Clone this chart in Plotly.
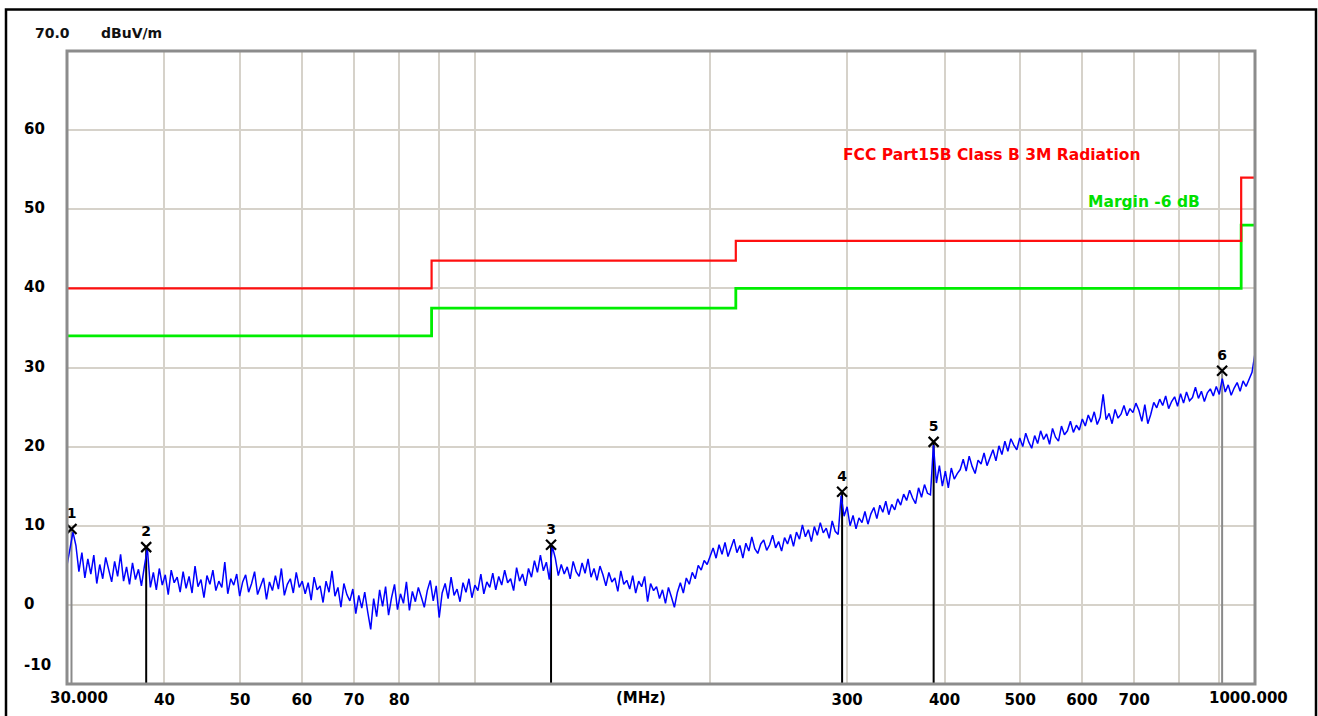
import numpy as np
import plotly.graph_objects as go

# ---------------- data ----------------
freq_start, freq_stop = 30.0, 1000.0

levels = [
    5.0, 6.9, 9.2, 7.5, 4.2, 6.6, 3.4, 5.8, 3.9, 6.3, 2.7, 5.1, 3.3, 6.0, 4.4, 2.9, 5.5, 3.6, 6.4, 3.0,
    4.8, 2.6, 5.3, 3.2, 4.5, 2.4, 4.9, 7.1, 2.2, 4.1, 1.9, 4.6, 2.5, 3.8, 1.3, 4.4, 2.8, 3.5, 1.6, 4.2,
    2.1, 3.6, 1.5, 4.9, 2.3, 3.2, 0.9, 3.7, 2.6, 4.4, 1.8, 3.0, 2.2, 5.4, 1.4, 3.3, 2.5, 3.9, 1.1, 2.9,
    3.8, 1.6, 2.7, 4.2, 1.3, 2.5, 3.4, 0.7, 2.9, 1.8, 3.7, 2.0, 4.6, 1.2, 2.6, 3.3, 1.5, 4.1, 2.2, 3.0,
    1.4, 2.8, 0.6, 3.5, 1.9, 2.4, 0.3, 3.0, 1.6, 4.3, 1.1, 2.2, -0.3, 2.7, 1.3, 0.5, 2.0, -1.1, 1.2, -0.4,
    1.6, -0.9, -3.1, 0.8, -1.5, 1.9, -0.2, 2.3, -1.3, 0.9, 2.6, -0.6, 1.4, 0.2, 2.9, -0.7, 1.7, 0.4, 2.2, 1.0,
    -0.3, 1.8, 3.1, 0.5, 2.4, -1.6, 1.5, 2.7, 0.8, 3.5, 1.2, 2.0, 0.4, 2.8, 1.6, 3.3, 0.9, 2.5, 1.8, 3.9,
    1.4, 2.9, 2.2, 4.0, 1.9, 3.6, 2.5, 4.4, 2.8, 3.3, 1.8, 4.7, 3.0, 3.9, 2.4, 4.6, 3.5, 5.6, 4.1, 6.3,
    4.3, 5.4, 3.2, 7.4, 5.9, 3.7, 5.1, 3.9, 4.8, 3.3, 5.5, 4.2, 3.6, 5.3, 4.0, 5.8, 3.5, 4.6, 3.1, 4.9,
    3.8, 2.4, 4.1, 2.9, 3.4, 1.7, 4.3, 2.6, 3.1, 2.0, 3.7, 1.5, 3.0, 2.3, 3.6, 0.4, 2.7, 1.8, 2.3, 0.8,
    1.9, 0.2, 2.2, 1.0, -0.3, 1.6, 2.8, 1.5, 3.4, 2.6, 4.1, 3.3, 5.0, 4.4, 5.6, 5.1, 6.3, 7.2, 5.9, 7.6,
    6.4, 7.9, 6.1, 7.3, 8.3, 6.6, 7.5, 5.9, 7.8, 6.8, 8.6, 7.1, 6.5, 7.7, 8.2, 6.9, 7.6, 8.8, 7.2, 8.0,
    6.8, 8.5, 7.7, 8.9, 7.4, 9.2, 8.3, 10.1, 8.6, 9.5, 8.0, 9.9, 8.8, 10.4, 9.1, 9.7, 8.4, 10.6, 9.3, 8.9,
    13.8, 11.2, 12.4, 10.0, 11.3, 9.6, 11.0, 10.4, 11.8, 10.2, 11.5, 12.3, 10.9, 12.6, 11.7, 13.1, 11.4, 12.7, 12.0, 13.4,
    12.6, 14.0, 13.2, 14.5, 13.5, 12.8, 14.8, 13.6, 15.2, 14.1, 13.9, 20.2, 15.4, 17.6, 15.0, 16.9, 14.8, 17.3, 15.9, 16.6,
    17.1, 18.4, 16.9, 18.8, 17.5, 16.6, 18.3, 17.8, 19.2, 17.6, 18.7, 19.6, 18.2, 20.1, 19.0, 20.7, 19.4, 21.0, 20.2, 19.6,
    21.1, 20.0, 21.7, 20.6, 19.8, 21.4, 20.4, 22.0, 20.9, 21.6, 20.3, 22.3, 21.2, 20.7, 22.6, 21.5, 22.0, 23.2, 21.8, 22.7,
    22.1, 23.5, 22.6, 24.0, 23.1, 24.4, 22.8, 23.7, 26.6, 23.4, 24.2, 22.9, 24.7, 23.6, 24.1, 25.2, 23.9, 24.8, 24.3, 25.5,
    24.6, 23.2, 25.3, 22.9, 24.1, 25.6, 24.9, 26.0, 25.2, 26.4, 24.8, 25.7, 26.3, 25.1, 26.7, 25.5, 26.9, 25.8, 26.2, 27.5,
    26.1, 27.0, 25.7, 26.8, 27.3, 26.4, 27.6, 26.6, 28.6, 26.9, 27.8, 26.5, 27.4, 28.1, 27.0, 28.3, 27.6, 28.6, 29.4, 31.8,
]

limit_freqs = [30, 88, 216, 960, 1000]
limit_levels = [40, 43.5, 46, 54, 54]
margin_levels = [34, 37.5, 40, 48, 48]

marker_ids = ["1", "2", "3", "4", "5", "6"]
marker_freqs = [30.4, 37.9, 125.2, 295.6, 387.3, 907.5]
marker_levels = [9.6, 7.3, 7.6, 14.3, 20.6, 29.6]
marker_line_colors = ["#8a8a8a", "#000000", "#000000", "#000000", "#000000", "#8a8a8a"]

x_tick_vals = [30, 40, 50, 60, 70, 80, 90, 100, 200, 300, 400, 500, 600, 700, 800, 900, 1000]
x_tick_text = ["", "40", "50", "60", "70", "80", "", "", "", "300", "400", "500", "600", "700", "", "", ""]
y_tick_vals = [0, 10, 20, 30, 40, 50, 60]
y_tick_text = ["0", "10", "20", "30", "40", "50", "60"]

# ---------------- figure ----------------
FONT = "DejaVu Sans"
GRID = "#d6d2ca"

freqs = np.geomspace(freq_start, freq_stop, len(levels))

fig = go.Figure()

# marker stems (drawn below the trace)
for f, lv, c in zip(marker_freqs, marker_levels, marker_line_colors):
    fig.add_trace(go.Scatter(x=[f, f], y=[-10, lv], mode="lines",
                             line=dict(color=c, width=2), hoverinfo="skip", showlegend=False))

fig.add_trace(go.Scatter(x=limit_freqs, y=margin_levels, mode="lines", line_shape="hv",
                         line=dict(color="#00ee00", width=2.8), showlegend=False))
fig.add_trace(go.Scatter(x=limit_freqs, y=limit_levels, mode="lines", line_shape="hv",
                         line=dict(color="#ff1010", width=2.2), showlegend=False))

fig.add_trace(go.Scatter(x=freqs, y=levels, mode="lines",
                         line=dict(color="#0000ff", width=1.5), showlegend=False))

fig.add_trace(go.Scatter(x=marker_freqs, y=marker_levels, mode="markers+text",
                         text=marker_ids, textposition="top center",
                         textfont=dict(family=FONT, size=14, color="#000000", weight="bold"),
                         marker=dict(symbol="x-thin-open", size=10, color="#000000",
                                     line=dict(color="#000000", width=2.2)),
                         showlegend=False))

fig.update_xaxes(type="log", range=[np.log10(freq_start), np.log10(freq_stop)],
                 tickvals=x_tick_vals, ticktext=x_tick_text, automargin=False,
                 showgrid=True, gridcolor=GRID, gridwidth=2,
                 zeroline=False, showline=False,
                 ticks="outside", ticklen=2, tickcolor="rgba(0,0,0,0)",
                 tickfont=dict(family=FONT, size=15, color="#000000", weight="bold"))
fig.update_yaxes(range=[-10, 70], tickvals=y_tick_vals, showticklabels=False, automargin=False,
                 showgrid=True, gridcolor=GRID, gridwidth=2,
                 zeroline=False, showline=False, ticks="")

PW, PH = 1188.0, 633.0
def px(x):
    return (x - 67.0) / PW
def py(y):
    return (684.0 - y) / PH

# plot border and outer frame
fig.add_shape(type="rect", xref="paper", yref="paper", x0=0, y0=0, x1=1, y1=1,
              line=dict(color="#8c8c8c", width=3), layer="above")
fig.add_shape(type="rect", xref="paper", yref="paper", x0=px(6), y0=py(722), x1=px(1316), y1=py(9.5),
              line=dict(color="#000000", width=2.5), layer="above")

ann_font = dict(family=FONT, size=15, color="#000000", weight="bold")

# y tick labels, left aligned as in the original software
for v, t in zip(y_tick_vals, y_tick_text):
    fig.add_annotation(xref="paper", yref="y", x=px(22), y=v, yshift=1, text=t, showarrow=False,
                       xanchor="left", yanchor="middle", font=ann_font)

annots = [
    dict(x=px(22), y=py(665), text="-10", xanchor="left", yanchor="middle", font=ann_font),
    dict(x=px(33), y=py(33), text="70.0", xanchor="left", yanchor="middle",
         font=dict(family=FONT, size=14, color="#111111", weight="bold")),
    dict(x=px(99), y=py(33), text="dBuV/m", xanchor="left", yanchor="middle",
         font=dict(family=FONT, size=14, color="#111111", weight="bold")),
    dict(x=px(79), y=py(698), text="30.000", xanchor="center", yanchor="middle", font=ann_font),
    dict(x=px(1248), y=py(698), text="1000.000", xanchor="center", yanchor="middle", font=ann_font),
    dict(x=px(641), y=py(698), text="(MHz)", xanchor="center", yanchor="middle", font=ann_font),
    dict(x=px(991), y=py(155), text="FCC Part15B Class B 3M Radiation", xanchor="center", yanchor="middle",
         font=dict(family=FONT, size=15.5, color="#ff0000", weight="bold")),
    dict(x=px(1144), y=py(202), text="Margin -6 dB", xanchor="center", yanchor="middle",
         font=dict(family=FONT, size=15.5, color="#00e000", weight="bold")),
]
for a in annots:
    fig.add_annotation(xref="paper", yref="paper", showarrow=False, **a)

fig.update_layout(width=1318, height=716,
                  margin=dict(l=67, r=63, t=51, b=32, pad=0, autoexpand=False),
                  paper_bgcolor="#ffffff", plot_bgcolor="#ffffff",
                  showlegend=False)

fig.write_html("out.html", config={"displayModeBar": False},
               post_script="document.body.style.margin='0';document.body.style.overflow='hidden';")
